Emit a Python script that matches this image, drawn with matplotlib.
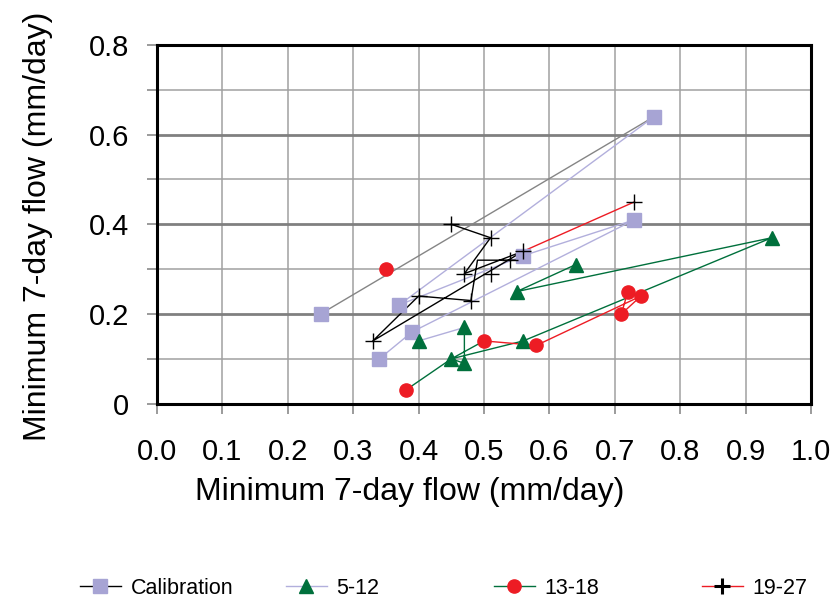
import numpy as np
from matplotlib import pyplot as plt
from matplotlib.lines import Line2D
from matplotlib.ticker import MultipleLocator, FixedLocator, FixedFormatter


# marker series (x, y) in mm/day
cal_x = [0.25, 0.76, 0.73, 0.56, 0.37, 0.39, 0.34]
cal_y = [0.20, 0.64, 0.41, 0.33, 0.22, 0.16, 0.10]

s512_x = [0.94, 0.64, 0.55, 0.56, 0.47, 0.40, 0.45, 0.47]
s512_y = [0.37, 0.31, 0.25, 0.14, 0.17, 0.14, 0.10, 0.09]

s1318_x = [0.35, 0.72, 0.74, 0.71, 0.50, 0.58, 0.38]
s1318_y = [0.30, 0.25, 0.24, 0.20, 0.14, 0.13, 0.03]

s1927_x = [0.45, 0.51, 0.56, 0.54, 0.47, 0.51, 0.48, 0.40, 0.33, 0.73]
s1927_y = [0.40, 0.37, 0.34, 0.32, 0.29, 0.29, 0.23, 0.24, 0.14, 0.45]

# connecting traces as drawn (None = break in the line)
gray_x = [0.25, 0.76]
gray_y = [0.20, 0.64]
lav_x = [0.76, 0.37, 0.56, 0.73, 0.39, 0.34, None, 0.40, 0.47]
lav_y = [0.64, 0.22, 0.33, 0.41, 0.16, 0.10, None, 0.14, 0.17]
green_x = [0.64, 0.55, 0.94, 0.56, 0.45, 0.50, None, 0.38, 0.45, 0.47, 0.47]
green_y = [0.31, 0.25, 0.37, 0.14, 0.10, 0.14, None, 0.03, 0.10, 0.09, 0.17]
red_x = [0.50, 0.58, 0.74, 0.71, 0.72, None, 0.56, 0.73]
red_y = [0.14, 0.13, 0.24, 0.20, 0.25, None, 0.34, 0.45]
black_x = [0.45, 0.51, 0.47, 0.56, None, 0.56, 0.49, 0.48, 0.40, 0.33, 0.56]
black_y = [0.40, 0.37, 0.29, 0.34, None, 0.32, 0.32, 0.23, 0.24, 0.14, 0.34]

legend_labels = ["Calibration", "5-12", "13-18", "19-27"]
x_ticks = [0.0, 0.1, 0.2, 0.3, 0.4, 0.5, 0.6, 0.7, 0.8, 0.9, 1.0]
y_ticks = [0.0, 0.2, 0.4, 0.6, 0.8]
y_ticklabels = ["0", "0.2", "0.4", "0.6", "0.8"]

LAV = "#a7a4d4"
LAV_LINE = "#b2afdc"
GREEN = "#00703c"
RED = "#ed1c24"
GRAY = "#858585"


def arr(v):
    return np.array([np.nan if a is None else a for a in v], dtype=float)


def main():
    plt.rcParams['font.family'] = ['Liberation Sans', 'DejaVu Sans']
    fig = plt.figure(figsize=(8.31, 5.99), dpi=100)
    ax = fig.add_axes([157 / 831, 1 - 403.7 / 599, 654 / 831, 358.8 / 599])

    ax.set_xlim(0, 1.0)
    ax.set_ylim(0, 0.8)

    # grid
    ax.xaxis.set_major_locator(FixedLocator(x_ticks))
    ax.xaxis.set_major_formatter(FixedFormatter(["%.1f" % t for t in x_ticks]))
    ax.yaxis.set_major_locator(FixedLocator(y_ticks))
    ax.yaxis.set_major_formatter(FixedFormatter(y_ticklabels))
    ax.yaxis.set_minor_locator(MultipleLocator(0.1))
    ax.grid(True, axis='x', which='major', color='#a0a0a0', lw=1.1)
    ax.grid(True, axis='y', which='minor', color='#a0a0a0', lw=1.1)
    ax.grid(True, axis='y', which='major', color='#808080', lw=2.0)
    ax.set_axisbelow(True)

    for s in ax.spines.values():
        s.set_linewidth(2.2)
        s.set_color('black')
        s.set_zorder(5)

    ax.tick_params(axis='both', which='both', direction='out', length=7,
                   width=1.1, color='#808080', labelsize=21, pad=13)
    ax.tick_params(axis='x', pad=18)

    lw = 1.0
    ax.plot(arr(gray_x), arr(gray_y), color=GRAY, lw=lw, zorder=2)
    ax.plot(arr(lav_x), arr(lav_y), color=LAV_LINE, lw=lw, zorder=2)
    ax.plot(arr(green_x), arr(green_y), color=GREEN, lw=lw, zorder=2)
    ax.plot(arr(red_x), arr(red_y), color=RED, lw=lw, zorder=2)
    ax.plot(arr(black_x), arr(black_y), color='black', lw=lw, zorder=2)

    ax.plot(cal_x, cal_y, ls='none', marker='s', ms=9.5, color=LAV, mec=LAV, zorder=3)
    ax.plot(s512_x, s512_y, ls='none', marker='^', ms=10, color=GREEN, mec=GREEN, zorder=3)
    ax.plot(s1318_x, s1318_y, ls='none', marker='o', ms=9.5, color=RED, mec=RED, zorder=3)
    ax.plot(s1927_x, s1927_y, ls='none', marker='+', ms=11, mew=1.0, color='black', zorder=4)

    fig.text(38 / 831, 1 - 226 / 599, "Minimum 7-day flow (mm/day)", rotation=90,
             ha='center', va='center', fontsize=23)
    fig.text(410 / 831, 1 - 500 / 599, "Minimum 7-day flow (mm/day)",
             ha='center', va='baseline', fontsize=23)

    # legend: line colour and marker are offset by one series, as in the original
    handles = [
        Line2D([], [], color='black', lw=1.0, marker='s', ms=9.5, mfc=LAV, mec=LAV),
        Line2D([], [], color=LAV_LINE, lw=1.0, marker='^', ms=10, mfc=GREEN, mec=GREEN),
        Line2D([], [], color=GREEN, lw=1.0, marker='o', ms=9.5, mfc=RED, mec=RED),
        Line2D([], [], color=RED, lw=1.0, marker='+', ms=11, mew=2.2, mec='black'),
    ]
    starts = [80, 286, 494, 702]
    for h, lab, x0 in zip(handles, legend_labels, starts):
        fig.legend(handles=[h], labels=[lab], loc='center left',
                   bbox_to_anchor=(x0 / 831, 1 - 588 / 599), frameon=False,
                   borderpad=0, borderaxespad=0, handlelength=1.9,
                   handletextpad=0.45, fontsize=15.5)

    plt.savefig("out.png", dpi=100)


if __name__ == '__main__':
    main()
